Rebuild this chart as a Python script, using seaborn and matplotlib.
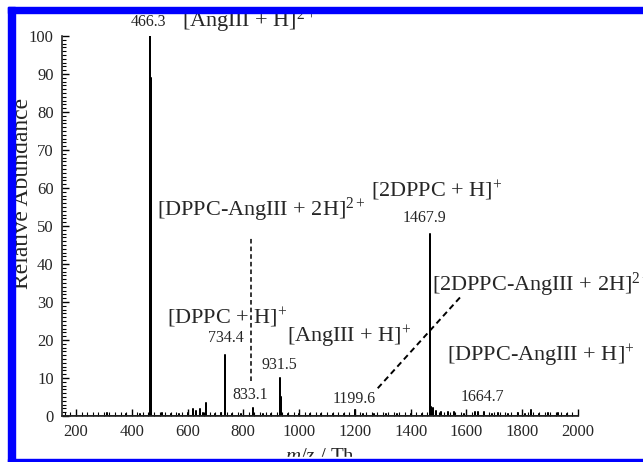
import numpy as np
import pandas as pd
import matplotlib
matplotlib.use("Agg")
import matplotlib.pyplot as plt
from matplotlib.patches import Rectangle
from matplotlib.ticker import MultipleLocator
import seaborn as sns

# Peak list: m/z and relative abundance
mz = [310, 380, 430, 466.3, 467.3, 468.3, 507, 540, 571, 600, 618, 630, 643, 655, 667,
      700, 721, 734.4, 760, 790, 833.1, 870, 900, 931.5, 933.5, 960, 1000, 1040, 1080,
      1120, 1160, 1199.6, 1230, 1270, 1310, 1350, 1400, 1440, 1467.9, 1472, 1480, 1490,
      1510, 1535, 1554, 1590, 1632, 1643, 1664.7, 1690, 1714, 1750, 1786, 1810, 1832,
      1860, 1893, 1929, 1960]
intensity = [0.8, 0.4, 0.5, 100, 89, 41, 0.8, 0.5, 0.6, 0.7, 1.9, 1.2, 1.8, 0.8, 3.3,
             0.5, 0.8, 16, 0.5, 0.4, 2.2, 0.5, 0.4, 10, 5, 0.5, 0.4, 0.5, 0.4,
             0.5, 0.6, 1.5, 0.5, 0.6, 0.4, 0.5, 0.5, 0.6, 48, 2.5, 2.0, 1.2,
             1.0, 1.0, 1.0, 0.6, 1.0, 1.0, 1.0, 0.6, 0.8, 0.6, 0.8, 0.6, 1.5,
             0.6, 0.8, 0.8, 0.5]

# Peak labels (text, label x, label y)
peak_labels = ["466.3", "734.4", "833.1", "931.5", "1199.6", "1467.9", "1664.7"]
peak_label_x = [461, 736, 825, 929, 1196, 1450, 1657]
peak_label_y = [103.6, 20.4, 5.5, 13.4, 4.4, 52.2, 4.9]

# Ion assignments (text, left x, baseline y)
ion_labels = ["[AngIII + H]$^{2+}$", "[DPPC-AngIII + 2H]$^{2+}$", "[DPPC + H]$^{+}$",
              "[AngIII + H]$^{+}$", "[2DPPC + H]$^{+}$", "[2DPPC-AngIII + 2H]$^{2+}$",
              "[DPPC-AngIII + H]$^{+}$"]
ion_x = [579, 489, 525, 957, 1257, 1475, 1529]
ion_y = [102.5, 52.7, 24.2, 19.3, 57.6, 33.0, 14.4]

sns.set_style("ticks")
plt.rcParams["font.family"] = ["Liberation Serif", "DejaVu Serif"]
plt.rcParams["mathtext.fontset"] = "custom"
plt.rcParams["mathtext.rm"] = "Liberation Serif"
plt.rcParams["mathtext.it"] = "Liberation Serif:italic"
plt.rcParams["mathtext.default"] = "regular"

# Stick spectrum as a single path: baseline -> peak -> baseline
xs, ys = [], []
for m, h in zip(mz, intensity):
    xs += [m, m, m]
    ys += [0, h, 0]
df = pd.DataFrame({"mz": xs, "abundance": ys})

fig = plt.figure(figsize=(6.43, 4.62), dpi=100)
ax = fig.add_axes([62 / 643, 46 / 462, 516 / 643, 380 / 462])
sns.lineplot(data=df, x="mz", y="abundance", sort=False, estimator=None,
             color="black", linewidth=1.1, ax=ax)
ax.axhline(0, color="black", linewidth=1.2)

ax.set_xlim(150, 2000)
ax.set_ylim(0, 100)
ax.xaxis.set_major_locator(MultipleLocator(200))
ax.xaxis.set_minor_locator(MultipleLocator(20))
ax.yaxis.set_major_locator(MultipleLocator(10))
ax.yaxis.set_minor_locator(MultipleLocator(1))
ax.tick_params(axis="both", which="both", direction="in", color="black")
ax.tick_params(axis="both", which="major", length=5, width=1, labelsize=12, pad=6)
ax.tick_params(axis="both", which="minor", length=3, width=0.8)
ax.set_xlabel("")
ax.set_ylabel("")
sns.despine(ax=ax)
ax.spines["left"].set_linewidth(1.2)
ax.spines["bottom"].set_linewidth(1.2)

for t, x, y in zip(peak_labels, peak_label_x, peak_label_y):
    ax.text(x, y, t, ha="center", va="center", fontsize=11.5, clip_on=False)
for t, x, y in zip(ion_labels, ion_x, ion_y):
    ax.text(x, y, t, ha="left", va="baseline", fontsize=16, clip_on=False)

# Leader lines for the weak ions
ax.plot([829, 829], [9.2, 47.3], color="black", linestyle=(0, (3, 2)), linewidth=1.1)
ax.plot([1282, 1577], [7.3, 31.2], color="black", linestyle=(0, (3, 2)), linewidth=1.4)

fig.text(23 / 643, 1 - 193 / 462, "Relative Abundance", rotation=90,
         ha="center", va="center", fontsize=17)
fig.text(320 / 643, 1 - 448 / 462, "$\\mathit{m/z}$ / Th", ha="center", va="top",
         fontsize=15)

# Blue frame
frame = "#0000ff"
fig.add_artist(Rectangle((8 / 643, 1 - 13 / 462), 1, 6 / 462, transform=fig.transFigure,
                         color=frame, zorder=10))
fig.add_artist(Rectangle((8 / 643, 0), 7 / 643, 1 - 7 / 462, transform=fig.transFigure,
                         color=frame, zorder=10))
fig.add_artist(Rectangle((8 / 643, 0), 1, 3 / 462, transform=fig.transFigure,
                         color=frame, zorder=10))
fig.add_artist(Rectangle((15 / 643, 3 / 462), 1, 2 / 462, transform=fig.transFigure,
                         color="white", zorder=9))

fig.savefig("out.png", dpi=100)
